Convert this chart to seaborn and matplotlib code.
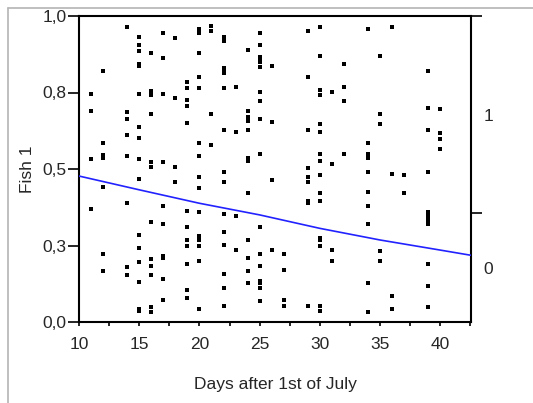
import matplotlib
matplotlib.use("Agg")
import matplotlib.pyplot as plt
from matplotlib.lines import Line2D
import seaborn as sns
import pandas as pd

# ---- data ----
day = ([11]*4 + [12]*7 + [14]*8 + [15]*16 + [16]*12 + [17]*10 + [18]*4 + [19]*12 +
       [20]*16 + [21]*4 + [22]*16 + [23]*4 + [24]*13 + [25]*17 + [26]*4 + [27]*4 +
       [29]*9 + [30]*16 + [31]*4 + [32]*4 + [34]*10 + [35]*5 + [36]*4 + [37]*2 +
       [39]*12 + [40]*4)
fish1 = [
    0.744, 0.691, 0.533, 0.368,
    0.821, 0.586, 0.547, 0.536, 0.442, 0.221, 0.168,
    0.963, 0.685, 0.663, 0.612, 0.542, 0.390, 0.179, 0.153,
    0.932, 0.905, 0.886, 0.843, 0.837, 0.744, 0.637, 0.600, 0.533, 0.468, 0.284, 0.242, 0.195, 0.131, 0.042, 0.035,
    0.879, 0.754, 0.742, 0.681, 0.522, 0.506, 0.327, 0.206, 0.184, 0.153, 0.048, 0.032,
    0.943, 0.864, 0.744, 0.522, 0.379, 0.321, 0.217, 0.210, 0.142, 0.073,
    0.928, 0.733, 0.506, 0.458,
    0.785, 0.765, 0.726, 0.706, 0.649, 0.363, 0.310, 0.269, 0.247, 0.190, 0.106, 0.078,
    0.959, 0.951, 0.944, 0.879, 0.802, 0.765, 0.586, 0.542, 0.474, 0.437, 0.358, 0.280, 0.269, 0.247, 0.200, 0.042,
    0.967, 0.952, 0.681, 0.579,
    0.932, 0.925, 0.919, 0.829, 0.821, 0.813, 0.765, 0.627, 0.489, 0.458, 0.353, 0.295, 0.253, 0.157, 0.111, 0.053,
    0.769, 0.622, 0.347, 0.236,
    0.890, 0.691, 0.671, 0.663, 0.656, 0.627, 0.535, 0.527, 0.422, 0.269, 0.210, 0.168, 0.126,
    0.943, 0.905, 0.865, 0.857, 0.851, 0.832, 0.753, 0.721, 0.664, 0.548, 0.310, 0.221, 0.184, 0.134, 0.127, 0.110, 0.069,
    0.838, 0.654, 0.463, 0.236,
    0.221, 0.169, 0.073, 0.053,
    0.952, 0.802, 0.627, 0.503, 0.474, 0.458, 0.395, 0.389, 0.053,
    0.963, 0.869, 0.758, 0.742, 0.648, 0.622, 0.548, 0.527, 0.479, 0.422, 0.395, 0.275, 0.268, 0.247, 0.053, 0.037,
    0.753, 0.516, 0.236, 0.200,
    0.842, 0.769, 0.721, 0.548,
    0.958, 0.586, 0.548, 0.536, 0.489, 0.426, 0.379, 0.321, 0.126, 0.032,
    0.869, 0.680, 0.648, 0.232, 0.200,
    0.963, 0.485, 0.085, 0.042,
    0.479, 0.422,
    0.821, 0.700, 0.627, 0.489, 0.359, 0.350, 0.339, 0.328, 0.319, 0.190, 0.117, 0.048,
    0.695, 0.617, 0.598, 0.564,
]
fit_days = [10, 15, 20, 25, 30, 35, 40, 42.55]
fit_prob = [0.477, 0.432, 0.388, 0.350, 0.306, 0.268, 0.235, 0.218]

y_ticks = [0.0, 0.25, 0.5, 0.75, 1.0]
y_tick_labels = ["0,0", "0,3", "0,5", "0,8", "1,0"]
x_ticks = [10, 15, 20, 25, 30, 35, 40]
right_bounds = [0.356, 1.0]
right_label_pos = [0.178, 0.678]
right_labels = ["0", "1"]

# ---- styling ----
sns.set_theme(style="white")
plt.rcParams["font.family"] = ["Liberation Sans", "DejaVu Sans"]
FS = 12.5

fig = plt.figure(figsize=(5.33, 4.03), dpi=100)
ax = fig.add_axes([79/533, 81/403, 392/533, 306/403])

pts = pd.DataFrame({"day": day, "fish1": fish1})
fit = pd.DataFrame({"day": fit_days, "prob": fit_prob})

sns.scatterplot(data=pts, x="day", y="fish1", ax=ax, marker="s", s=5,
                color="black", linewidth=0, zorder=3)
sns.lineplot(data=fit, x="day", y="prob", ax=ax, color="#2222ff",
             linewidth=1.2, zorder=4)

ax.set_xlim(10, 42.55)
ax.set_ylim(0, 1)
ax.set_xticks(x_ticks)
ax.set_xticks([12.5, 17.5, 22.5, 27.5, 32.5, 37.5, 42.5], minor=True)
ax.set_yticks(y_ticks)
ax.set_yticklabels(y_tick_labels)
ax.tick_params(axis="x", which="both", direction="out", length=3, width=1.2,
               color="black", labelsize=FS, pad=8, bottom=True)
ax.tick_params(axis="y", which="major", direction="out", length=8, width=1.2,
               color="black", labelsize=FS, pad=1, left=True)

for s in ["left", "bottom", "right", "top"]:
    ax.spines[s].set_visible(True)
    ax.spines[s].set_color("black")
    ax.spines[s].set_linewidth(1.5)

ax.set_xlabel("Days after 1st of July", fontsize=FS, labelpad=18)
ax.set_ylabel("Fish 1", fontsize=FS, labelpad=5)

ax2 = ax.twinx()
ax2.set_ylim(0, 1)
ax2.set_yticks(right_bounds)
ax2.set_yticklabels(["", ""])
ax2.set_yticks(right_label_pos, minor=True)
ax2.set_yticklabels(right_labels, minor=True)
ax2.tick_params(axis="y", which="major", direction="out", length=8, width=1.2,
                color="black", right=True)
ax2.tick_params(axis="y", which="minor", length=0, labelsize=FS, pad=9, right=True)
for s in ["left", "bottom", "right", "top"]:
    ax2.spines[s].set_visible(False)

# light grey frame lines of the original window
fig.add_artist(Line2D([8/533, 8/533], [0, 1 - 8/403], color="#b4b4b4", lw=1.2))
fig.add_artist(Line2D([8/533, 1], [1 - 8/403, 1 - 8/403], color="#b4b4b4", lw=1.2))

fig.savefig("out.png", dpi=100)
